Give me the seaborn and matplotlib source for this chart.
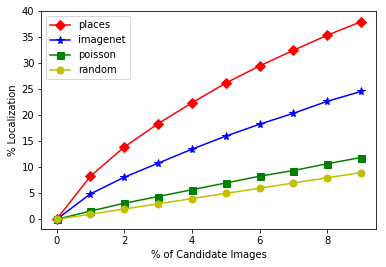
import matplotlib
matplotlib.use("Agg")
import matplotlib.pyplot as plt
import seaborn as sns
import pandas as pd

x_vals = [0, 1, 2, 3, 4, 5, 6, 7, 8, 9]
places = [0, 8.3, 13.9, 18.4, 22.4, 26.2, 29.5, 32.5, 35.4, 38.0]
imagenet = [0, 4.9, 8.1, 10.8, 13.5, 16.0, 18.3, 20.4, 22.7, 24.6]
poisson = [0, 1.6, 3.1, 4.4, 5.7, 7.0, 8.3, 9.4, 10.7, 11.9]
random_ = [0, 1, 2, 3, 4, 5, 6, 7, 8, 9]

series = [
    ("places", places, "red", "D"),
    ("imagenet", imagenet, "blue", "*"),
    ("poisson", poisson, "green", "s"),
    ("random", random_, "y", "o"),
]

plt.rcParams["font.family"] = ["DejaVu Sans"]
plt.rcParams["font.size"] = 10

fig = plt.figure(figsize=(386 / 72, 267 / 72), dpi=72)
ax = fig.add_axes([41.3 / 386, 1 - 229.3 / 267, (376.3 - 41.3) / 386, (229.3 - 11.3) / 267])

for name, vals, color, marker in series:
    df = pd.DataFrame({"x": x_vals, "y": vals})
    sns.lineplot(data=df, x="x", y="y", ax=ax, color=color, marker=marker,
                 markersize=7 if marker != "*" else 8, markeredgecolor=color,
                 markeredgewidth=1, linewidth=1.5, label=name)

ax.set_xlabel("% of Candidate Images")
ax.set_ylabel("% Localization")
ax.set_xticks([0, 2, 4, 6, 8])
ax.set_yticks([0, 5, 10, 15, 20, 25, 30, 35, 40])
ax.set_xlim(-0.45, 9.45)
ax.set_ylim(-1.9, 40.0)
ax.legend(loc="upper left")

fig.savefig("out.png", dpi=72)
